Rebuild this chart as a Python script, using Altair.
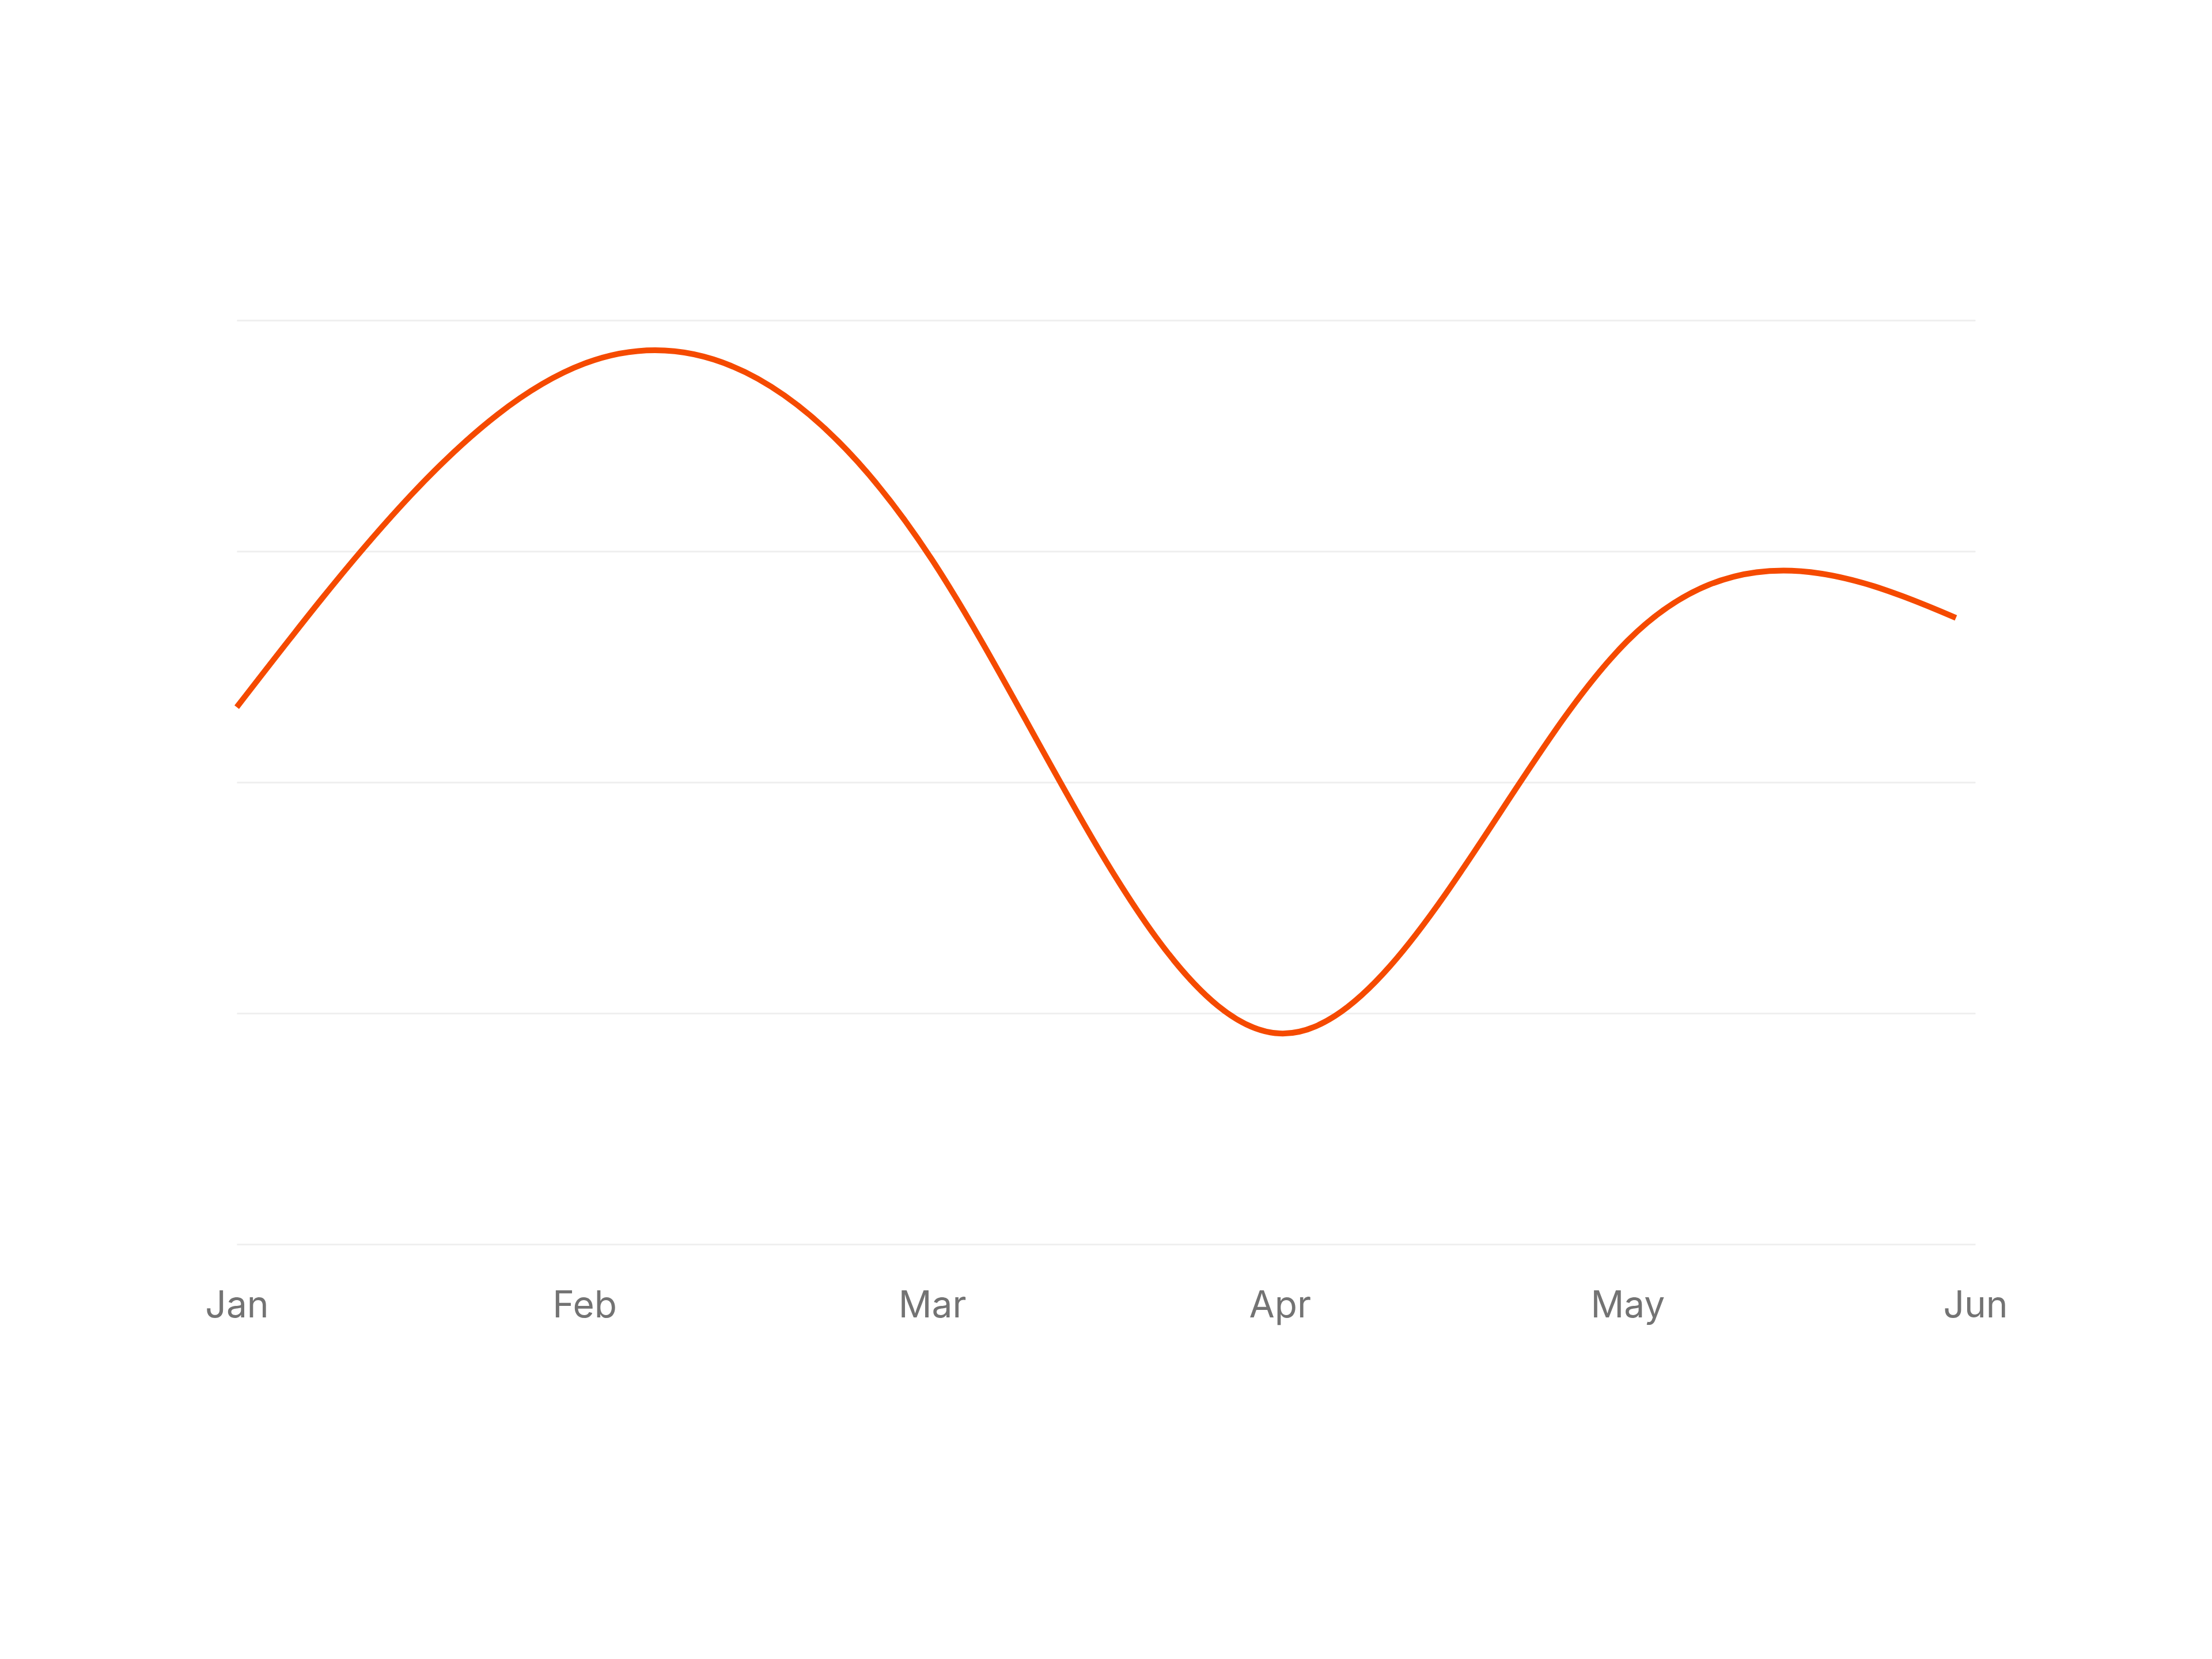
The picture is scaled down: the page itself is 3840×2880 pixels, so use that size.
import altair as alt
import numpy as np
import pandas as pd

# Data (six monthly values, y axis 0-320 with gridlines every 80)
months = ["Jan", "Feb", "Mar", "Apr", "May", "Jun"]
month_idx = [0, 1, 2, 3, 4, 5]
desktop = [186, 305, 237, 73, 209, 214]
y_ticks = [0, 80, 160, 240, 320]

# The drawn line stops just short of Jun (in month units)
line_end = 4.944

W, H = 3018, 1604
Y_MAX = 320

df = pd.DataFrame({"idx": month_idx, "month": months, "desktop": desktop})

# Length (px) of the natural-spline path up to line_end, used as a dash length
def natural_path_length(vals, s_end):
    xp = np.array(month_idx, dtype=float) * W / 5.0
    yp = np.array(vals, dtype=float) * H / Y_MAX
    n = len(yp)
    A = np.zeros((n - 2, n - 2))
    r = np.zeros(n - 2)
    for i in range(1, n - 1):
        A[i - 1, i - 1] = 4.0
        if i - 2 >= 0:
            A[i - 1, i - 2] = 1.0
        if i < n - 2:
            A[i - 1, i] = 1.0
        r[i - 1] = 6.0 * (yp[i + 1] - 2 * yp[i] + yp[i - 1])
    M = np.zeros(n)
    M[1:-1] = np.linalg.solve(A, r)
    s = np.linspace(0.0, s_end, 40001)
    seg = np.minimum(np.floor(s).astype(int), n - 2)
    u = s - seg
    yy = ((1 - u) * yp[seg] + u * yp[seg + 1]
          + ((1 - u) ** 3 - (1 - u)) * M[seg] / 6.0
          + (u ** 3 - u) * M[seg + 1] / 6.0)
    xx = s * (xp[1] - xp[0])
    return float(np.sum(np.hypot(np.diff(xx), np.diff(yy))))

dash_len = natural_path_length(desktop, line_end)

label_expr = "[" + ",".join("'%s'" % m for m in months) + "][datum.value]"

chart = alt.Chart(df).mark_line(
    interpolate="natural",
    color="#F54A00",
    strokeWidth=10,
    strokeDash=[dash_len, 20000],
).encode(
    x=alt.X(
        "idx:Q",
        scale=alt.Scale(domain=[0, 5], nice=False, zero=False),
        axis=alt.Axis(
            values=month_idx,
            labelExpr=label_expr,
            title=None,
            grid=False,
            domain=False,
            ticks=False,
            tickSize=0,
            labelPadding=75,
            labelFontSize=64,
            labelFont="Inter",
            labelColor="#737373",
            labelAlign="center",
            labelFlush=False,
        ),
    ),
    y=alt.Y(
        "desktop:Q",
        scale=alt.Scale(domain=[0, Y_MAX], nice=False),
        axis=alt.Axis(
            values=y_ticks,
            title=None,
            labels=False,
            ticks=False,
            domain=False,
            grid=True,
            gridColor="#efefef",
            gridWidth=3,
        ),
    ),
).properties(
    width=W,
    height=H,
    autosize=alt.AutoSizeParams(type="none"),
    padding={"left": 403, "top": 548, "right": 403, "bottom": 700},
).configure(
    background="#ffffff"
).configure_view(
    stroke=None
)

chart.save("out.html", embed_options={"renderer": "svg", "actions": False})
